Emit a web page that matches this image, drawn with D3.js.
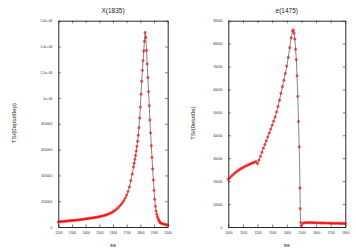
<!DOCTYPE html>
<html>
<head>
<meta charset="utf-8">
<script src="https://cdn.jsdelivr.net/npm/d3@7"></script>
<style>
  body { margin: 0; background: #fff; }
  svg { display: block; font-family: "Liberation Sans", Arial, sans-serif; }
</style>
</head>
<body>
<div id="main"></div>
<script>
// X(1835) panel
const xLeft = [
  1200, 1210, 1220, 1230, 1240, 1250, 1260, 1270, 1280, 1290,
  1300, 1310, 1320, 1330, 1340, 1350, 1360, 1370, 1380, 1390,
  1400, 1410, 1420, 1430, 1440, 1450, 1460, 1470, 1480, 1490,
  1500, 1510, 1520, 1530, 1540, 1550, 1560, 1570, 1580, 1590,
  1600, 1610, 1620, 1630, 1640, 1650, 1660, 1670, 1680, 1690,
  1700, 1710, 1720, 1730, 1740,
  1750, 1755, 1760, 1765, 1770, 1775, 1780, 1785, 1790, 1795,
  1800, 1805, 1810, 1815, 1820, 1825, 1830, 1835, 1840, 1845,
  1850, 1855, 1860, 1865, 1870, 1875, 1880, 1885, 1890, 1895,
  1900, 1905, 1910, 1915, 1920, 1925, 1930, 1935, 1940, 1945,
  1950, 1960, 1970, 1980, 1990, 2000
];
const yLeft = [
  40000, 41000, 42000, 43000, 44000, 45000, 46000, 47000, 48000, 49000,
  50000, 51000, 52000, 53000, 54000, 55500, 57000, 58500, 60000, 61500,
  63000, 64500, 66000, 67500, 69000, 70500, 72000, 74000, 76000, 78000,
  80000, 82500, 85000, 88000, 91000, 94000, 98000, 102000, 107000, 112000,
  118000, 125000, 133000, 142000, 152000, 164000, 176000, 190000, 206000, 226000,
  248000, 275000, 310000, 360000, 410000,
  465000, 495000, 525000, 555000, 590000, 625000, 665000, 712000, 770000, 845000,
  930000, 1030000, 1130000, 1215000, 1290000, 1365000, 1440000, 1508000, 1470000, 1370000,
  1265000, 1160000, 1050000, 940000, 830000, 730000, 630000, 540000, 450000, 365000,
  285000, 215000, 160000, 125000, 100000, 80000, 65000, 52000, 42000, 35000,
  30000, 26000, 23000, 20000, 17000, 15000
];
const xTicksLeft = [1200, 1300, 1400, 1500, 1600, 1700, 1800, 1900, 2000];
const yTicksLeft = [0, 200000, 400000, 600000, 800000, 1000000, 1200000, 1400000, 1600000];
const yTickLabelsLeft = ["0", "200000", "400000", "600000", "800000", "1e+06", "1.2e+06", "1.4e+06", "1.6e+06"];

// e(1475) panel
const xRight = [
  1000, 1010, 1020, 1030, 1040, 1050, 1060, 1070, 1080, 1090,
  1100, 1110, 1120, 1130, 1140, 1150, 1160, 1170, 1180, 1190,
  1200, 1210, 1220, 1230, 1240, 1250, 1260, 1270, 1280, 1290,
  1300, 1310, 1320, 1330, 1340, 1350, 1360, 1370, 1380, 1390,
  1400, 1410, 1420, 1430, 1440, 1445, 1450, 1455, 1460, 1465,
  1470, 1475, 1480, 1485, 1490, 1492, 1495, 1498,
  1510, 1520, 1530, 1540, 1550, 1560, 1570, 1580, 1590, 1600,
  1610, 1620, 1630, 1640, 1650, 1660, 1670, 1680, 1690, 1700,
  1710, 1720, 1730, 1740, 1750, 1760, 1770, 1780, 1790, 1800
];
const yRight = [
  20800, 21500, 22100, 22700, 23300, 23800, 24300, 24800, 25200, 25600,
  25900, 26300, 26600, 26900, 27200, 27500, 27800, 28000, 28300, 28600,
  27600, 29200, 30800, 32600, 34400, 36000, 37600, 39300, 41000, 42700,
  44400, 46200, 48000, 50200, 52600, 55300, 58300, 61200, 64000, 67000,
  70200, 74000, 78200, 82500, 85500, 86000, 84500, 82000, 77500, 73000,
  66000, 57000, 46000, 35000, 17000, 8000, 2000, 500,
  1600, 1800, 1900, 1900, 1900, 1900, 1900, 1850, 1850, 1800,
  1800, 1800, 1750, 1750, 1750, 1700, 1700, 1700, 1650, 1650,
  1650, 1600, 1600, 1600, 1600, 1550, 1550, 1550, 1500, 1500
];
const xTicksRight = [1000, 1100, 1200, 1300, 1400, 1500, 1600, 1700, 1800];
const yTicksRight = [0, 10000, 20000, 30000, 40000, 50000, 60000, 70000, 80000, 90000];

const W = 356, H = 249;

const svg = d3.select("#main")
  .append("svg")
  .attr("width", W)
  .attr("height", H);

function panel(cfg) {
  const x = d3.scaleLinear().domain(cfg.xDomain).range([cfg.left, cfg.right]);
  const y = d3.scaleLinear().domain(cfg.yDomain).range([cfg.bottom, cfg.top]);
  const g = svg.append("g");

  // ticks all round, pointing inwards
  const tick = 2.5;
  g.append("g")
    .attr("transform", `translate(0,${cfg.bottom})`)
    .call(d3.axisBottom(x).tickValues(cfg.xTicks).tickSize(-tick).tickSizeOuter(0).tickPadding(5).tickFormat(d3.format("d")));
  g.append("g")
    .attr("transform", `translate(0,${cfg.top})`)
    .call(d3.axisTop(x).tickValues(cfg.xTicks).tickSize(-tick).tickSizeOuter(0).tickFormat(""));
  g.append("g")
    .attr("transform", `translate(${cfg.left},0)`)
    .call(d3.axisLeft(y).tickValues(cfg.yTicks).tickSize(-tick).tickSizeOuter(0).tickPadding(6)
      .tickFormat((d, i) => cfg.yLabels[i]));
  g.append("g")
    .attr("transform", `translate(${cfg.right},0)`)
    .call(d3.axisRight(y).tickValues(cfg.yTicks).tickSize(-tick).tickSizeOuter(0).tickFormat(""));

  g.selectAll(".tick text")
    .attr("font-size", "3.3px")
    .attr("font-family", "Liberation Sans, Arial, sans-serif")
    .attr("fill", "#333");
  g.selectAll(".domain").attr("stroke", "#111").attr("stroke-width", 0.9);
  g.selectAll(".tick line").attr("stroke", "#222").attr("stroke-width", 0.6);

  const pts = cfg.xs.map((d, i) => [d, cfg.ys[i]]);

  const line = d3.line()
    .x(d => x(d[0]))
    .y(d => y(d[1]))
    .curve(d3.curveMonotoneX);

  g.append("path")
    .datum(pts)
    .attr("fill", "none")
    .attr("stroke", "#333")
    .attr("stroke-width", 0.6)
    .attr("d", line);

  g.selectAll("circle")
    .data(pts)
    .join("circle")
    .attr("cx", d => x(d[0]))
    .attr("cy", d => y(d[1]))
    .attr("r", 1.2)
    .attr("fill", "rgba(255,0,0,0.55)")
    .attr("stroke", "red")
    .attr("stroke-width", 0.4);

  // titulo
  svg.append("text")
    .attr("x", (cfg.left + cfg.right) / 2)
    .attr("y", 12.5)
    .attr("text-anchor", "middle")
    .attr("font-size", "6.5px")
    .attr("fill", "#222")
    .text(cfg.title);

  // label eixo x
  svg.append("text")
    .attr("x", (cfg.left + cfg.right) / 2)
    .attr("y", 247)
    .attr("text-anchor", "middle")
    .attr("font-size", "6px")
    .attr("fill", "#222")
    .text("ss");

  // label eixo y
  svg.append("text")
    .attr("transform", `translate(${cfg.yLabelX},123) rotate(-90)`)
    .attr("text-anchor", "middle")
    .attr("font-size", "6px")
    .attr("fill", "#222")
    .text(cfg.yTitle);
}

panel({
  xs: xLeft, ys: yLeft,
  xDomain: [1200, 2000], yDomain: [0, 1600000],
  xTicks: xTicksLeft, yTicks: yTicksLeft, yLabels: yTickLabelsLeft,
  left: 58.3, right: 167.7, top: 20.7, bottom: 227,
  title: "X(1835)", yTitle: "TS/(0eptot0ep)", yLabelX: 16
});

panel({
  xs: xRight, ys: yRight,
  xDomain: [1000, 1800], yDomain: [0, 90000],
  xTicks: xTicksRight, yTicks: yTicksRight, yLabels: yTicksRight.map(String),
  left: 228.3, right: 345.3, top: 20.7, bottom: 227,
  title: "e(1475)", yTitle: "TS/(0etot0e)", yLabelX: 195
});
</script>
</body>
</html>
